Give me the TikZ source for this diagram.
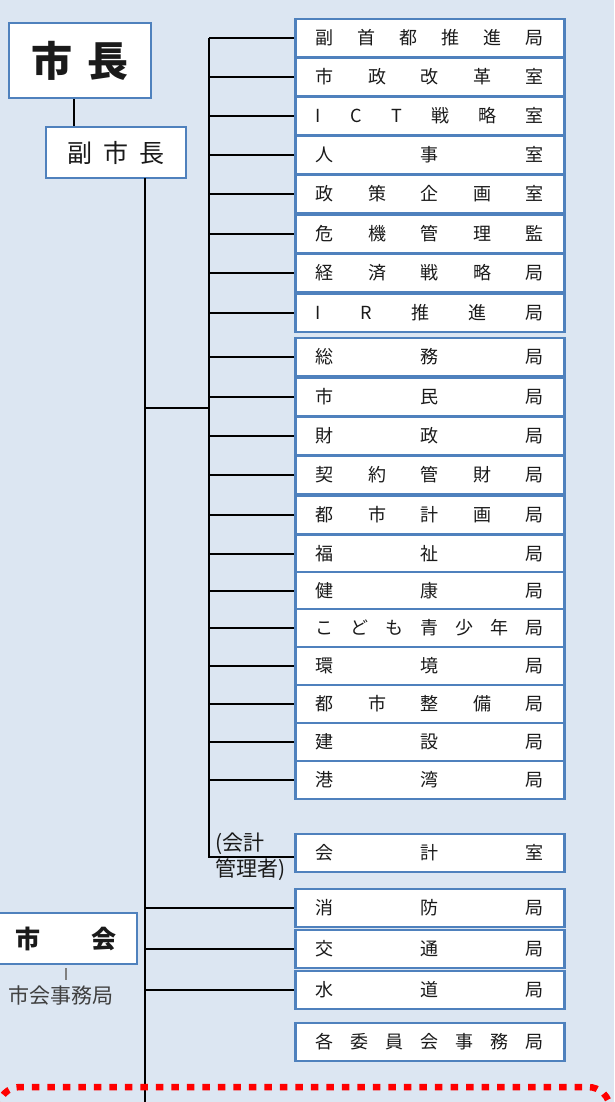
\documentclass[tikz,border=0pt]{standalone}
\usepackage{fontspec}
\setmainfont{Noto Sans CJK JP}
\definecolor{bg}{RGB}{220,230,242}
\definecolor{boxblue}{RGB}{79,129,189}
\definecolor{txt}{RGB}{26,26,26}
\definecolor{subgray}{RGB}{64,64,64}
\newcommand\hf{\hfill}
\newcommand\dtext[1]{\raisebox{-2.5pt}{\makebox[228pt]{#1}}}
\begin{document}
\begin{tikzpicture}[x=1pt,y=-1pt,
  dept/.style={draw=boxblue, line width=2.6pt, fill=white, minimum width=269pt, minimum height=38pt, inner sep=0pt, anchor=west, font=\fontsize{18}{20}\selectfont, text=txt},
  topbox/.style={draw=boxblue, line width=2.6pt, fill=white, inner sep=0pt, text=txt},
  conn/.style={line width=2.7pt, black}]
\useasboundingbox (0,0) rectangle (614,1102);
\fill[bg] (0,0) rectangle (614,1102);
\begin{scope}
\clip (0,0) rectangle (614,1102);
% top boxes
\node[topbox, minimum width=142pt, minimum height=75pt, font=\fontsize{41}{41}\selectfont\bfseries] (mayor) at (80,60.5) {市\hspace{16pt}長};
\node[topbox, minimum width=140pt, minimum height=51pt, font=\fontsize{25}{25}\selectfont] (vice) at (116,152.5) {副\hspace{11pt}市\hspace{11pt}長};
\node[topbox, minimum width=143pt, minimum height=51pt, font=\fontsize{25}{25}\selectfont\bfseries] (council) at (65.5,938.5) {市\hspace{51pt}会};
\node[font=\fontsize{21}{21}\selectfont, text=subgray, inner sep=0pt] (csec) at (61,995) {市会事務局};
% departments
\node[dept] (b1) at (294,38) {\dtext{副\hf 首\hf 都\hf 推\hf 進\hf 局}};
\node[dept] (b2) at (294,77) {\dtext{市\hf 政\hf 改\hf 革\hf 室}};
\node[dept] (b3) at (294,116) {\dtext{I\hf C\hf T\hf 戦\hf 略\hf 室}};
\node[dept] (b4) at (294,155) {\dtext{人\hf 事\hf 室}};
\node[dept] (b5) at (294,194) {\dtext{政\hf 策\hf 企\hf 画\hf 室}};
\node[dept] (b6) at (294,234) {\dtext{危\hf 機\hf 管\hf 理\hf 監}};
\node[dept] (b7) at (294,273) {\dtext{経\hf 済\hf 戦\hf 略\hf 局}};
\node[dept] (b8) at (294,313) {\dtext{I\hf R\hf 推\hf 進\hf 局}};
\node[dept] (b9) at (294,357) {\dtext{総\hf 務\hf 局}};
\node[dept] (b10) at (294,397) {\dtext{市\hf 民\hf 局}};
\node[dept] (b11) at (294,436) {\dtext{財\hf 政\hf 局}};
\node[dept] (b12) at (294,475) {\dtext{契\hf 約\hf 管\hf 財\hf 局}};
\node[dept] (b13) at (294,515) {\dtext{都\hf 市\hf 計\hf 画\hf 局}};
\node[dept] (b14) at (294,554) {\dtext{福\hf 祉\hf 局}};
\node[dept] (b15) at (294,591) {\dtext{健\hf 康\hf 局}};
\node[dept] (b16) at (294,628) {\dtext{こ\hf ど\hf も\hf 青\hf 少\hf 年\hf 局}};
\node[dept] (b17) at (294,666) {\dtext{環\hf 境\hf 局}};
\node[dept] (b18) at (294,704) {\dtext{都\hf 市\hf 整\hf 備\hf 局}};
\node[dept] (b19) at (294,742) {\dtext{建\hf 設\hf 局}};
\node[dept] (b20) at (294,780) {\dtext{港\hf 湾\hf 局}};
\node[dept] (b21) at (294,853) {\dtext{会\hf 計\hf 室}};
\node[dept] (b22) at (294,908) {\dtext{消\hf 防\hf 局}};
\node[dept] (b23) at (294,949) {\dtext{交\hf 通\hf 局}};
\node[dept] (b24) at (294,990) {\dtext{水\hf 道\hf 局}};
\node[dept] (b25) at (294,1042) {\dtext{各\hf 委\hf 員\hf 会\hf 事\hf 務\hf 局}};
\node[anchor=west, align=left, inner sep=0pt, font=\fontsize{21}{26}\selectfont, text=txt] (acct) at (215,857) {(会計\\管理者)};
% coordinates
\coordinate (ix) at (209,0);
\coordinate (mx) at (145,0);
\coordinate (mtop) at (145,178);
\coordinate (mbot) at (145,1102);
\coordinate (junc) at (145,408);
\coordinate (lx) at (74,0);
\coordinate (tk1) at (66,968);
\coordinate (tk2) at (66,980);
\coordinate (acc) at (209,857);
% connectors
\draw[conn] (mayor.south -| lx) -- (vice.north -| lx);
\draw[conn] (mtop) -- (mbot);
\draw[conn] (junc) -- (junc -| ix);
\draw[conn] (b1.west -| ix) -- (acc) -- (acc -| b21.west);
\foreach \i in {1,...,20}{\draw[conn] (b\i.west -| ix) -- (b\i.west);}
\foreach \i in {22,23,24}{\draw[conn] (b\i.west -| mx) -- (b\i.west);}
\draw[line width=1.2pt, gray] (tk1) -- (tk2);
% red dotted boundary
\draw[red, line width=6.5pt, dash pattern=on 7.5pt off 8pt, rounded corners=22pt] (-2,1140) -- (-2,1087) -- (610,1087) -- (610,1140);
\end{scope}
\end{tikzpicture}
\end{document}
